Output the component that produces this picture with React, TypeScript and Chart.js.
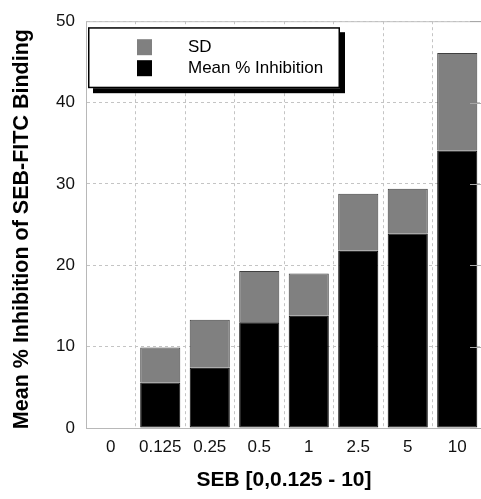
import React, { useEffect, useRef } from "react";
import { Chart, registerables } from "chart.js";

Chart.register(...registerables);

const categories = ["0", "0.125", "0.25", "0.5", "1", "2.5", "5", "10"];
const meanValues = [0, 5.6, 7.4, 13.0, 13.8, 21.8, 23.9, 34.1];
const sdValues = [0, 4.3, 5.9, 6.3, 5.2, 7.0, 5.5, 12.0];
const yTicks = [0, 10, 20, 30, 40, 50];
const yTitle = "Mean % Inhibition of SEB-FITC Binding";
const xTitle = "SEB [0,0.125 - 10]";

const FONT = "'Liberation Sans', Arial, Helvetica, sans-serif";

const framePlugin = {
  id: "framePlugin",
  afterDraw(chart: any) {
    const { ctx, chartArea } = chart;
    const { left, right, top, bottom } = chartArea;
    const yScale = chart.scales.y;
    ctx.save();
    // top & right border
    ctx.strokeStyle = "#c0c0c0";
    ctx.lineWidth = 1;
    ctx.beginPath();
    ctx.moveTo(left, top + 0.5);
    ctx.lineTo(right, top + 0.5);
    ctx.moveTo(right - 0.5, top);
    ctx.lineTo(right - 0.5, bottom);
    ctx.stroke();
    // right inward ticks
    ctx.strokeStyle = "#a8a8a8";
    ctx.beginPath();
    yTicks.forEach((v) => {
      const y = Math.round(yScale.getPixelForValue(v)) + 0.5;
      ctx.moveTo(right - 12, y);
      ctx.lineTo(right, y);
    });
    ctx.stroke();

    // y title
    ctx.save();
    ctx.translate(22, (top + bottom) / 2 + 4.5);
    ctx.rotate(-Math.PI / 2);
    ctx.font = `bold 21.5px ${FONT}`;
    ctx.fillStyle = "#000";
    ctx.textAlign = "center";
    ctx.textBaseline = "middle";
    ctx.fillText(yTitle, 0, 0);
    ctx.restore();

    // legend box
    const bx = left + 2;
    const by = top + 6;
    const bw = 252;
    const bh = 61;
    ctx.fillStyle = "#000";
    ctx.fillRect(bx + 5, by + 5, bw, bh);
    ctx.fillStyle = "#fff";
    ctx.fillRect(bx, by, bw, bh);
    ctx.strokeStyle = "#000";
    ctx.lineWidth = 1.5;
    ctx.strokeRect(bx + 0.75, by + 0.75, bw - 1.5, bh - 1.5);

    const items = chart.data.datasets.slice().reverse();
    ctx.font = `17px ${FONT}`;
    ctx.textBaseline = "middle";
    ctx.textAlign = "left";
    items.forEach((ds: any, i: number) => {
      const cy = by + 20 + i * 21;
      ctx.fillStyle = ds.backgroundColor;
      ctx.fillRect(bx + 49, cy - 8, 15, 16);
      ctx.fillStyle = "#000";
      ctx.fillText(ds.label, bx + 100, cy);
    });
    ctx.restore();
  },
};

export default function App() {
  const canvasRef = useRef<HTMLCanvasElement | null>(null);

  useEffect(() => {
    if (!canvasRef.current) return;
    const chart = new Chart(canvasRef.current, {
      type: "bar",
      data: {
        labels: categories,
        datasets: [
          {
            label: "Mean % Inhibition",
            data: meanValues,
            backgroundColor: "#000000",
            borderColor: "#000000",
            borderWidth: (c: any) => (c.raw === 0 ? 0 : 1),
            borderSkipped: false,
            categoryPercentage: 1,
            barPercentage: 0.81,
          },
          {
            label: "SD",
            data: sdValues,
            backgroundColor: "#808080",
            borderColor: "#404040",
            borderWidth: (c: any) => (c.raw === 0 ? 0 : 1),
            borderSkipped: "bottom",
            categoryPercentage: 1,
            barPercentage: 0.81,
          },
        ],
      },
      options: {
        animation: false,
        responsive: false,
        layout: { padding: { left: 0, top: 21, right: 8, bottom: 0 } },
        plugins: {
          legend: { display: false },
          tooltip: { enabled: false },
        },
        scales: {
          x: {
            stacked: true,
            grid: {
              color: "#c4c4c4",
              lineWidth: 1,
              drawTicks: false,
              offset: true,
            },
            border: { display: true, color: "#b8b8b8", dash: [3, 3] },
            ticks: {
              color: "#111",
              font: { family: FONT, size: 17 },
              padding: 9,
              maxRotation: 0,
              autoSkip: false,
            },
            title: {
              display: true,
              text: xTitle,
              color: "#000",
              font: { family: FONT, size: 21, weight: "bold" },
              padding: { top: 0, bottom: 6 },
            },
            afterFit: (scale: any) => {
              scale.height = 71;
            },
          },
          y: {
            stacked: true,
            min: 0,
            max: 50,
            afterBuildTicks: (scale: any) => {
              scale.ticks = yTicks.map((v) => ({ value: v }));
            },
            grid: {
              color: "#c4c4c4",
              lineWidth: 1,
              drawTicks: false,
            },
            border: { display: true, color: "#b8b8b8", dash: [3, 3] },
            ticks: {
              color: "#111",
              font: { family: FONT, size: 17 },
              padding: 11,
            },
            afterFit: (scale: any) => {
              scale.width = 86;
            },
          },
        },
      },
      plugins: [framePlugin],
    } as any);
    return () => chart.destroy();
  }, []);

  return (
    <div
      style={{
        position: "fixed",
        left: 0,
        top: 0,
        width: 481,
        height: 499,
        overflow: "hidden",
        background: "#fff",
      }}
    >
      <canvas
        ref={canvasRef}
        width={490}
        height={499}
        style={{ width: 490, height: 499, display: "block" }}
      />
    </div>
  );
}
